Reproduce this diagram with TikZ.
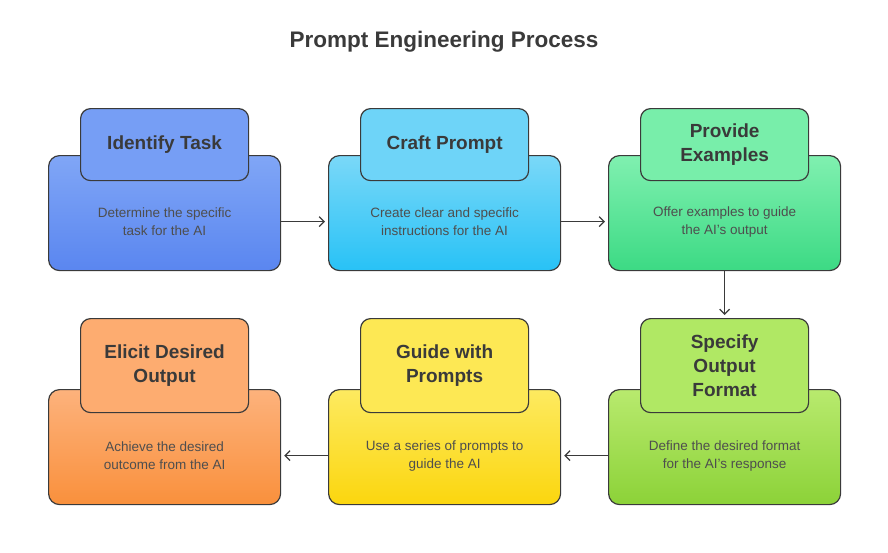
\documentclass[tikz,border=0pt]{standalone}
\usepackage{fontspec}
\setmainfont{Liberation Sans}
\usetikzlibrary{arrows.meta}
\definecolor{ink}{HTML}{3A3A3A}
\begin{document}
\begin{tikzpicture}[x=1pt,y=-1pt]

	\tikzstyle{caja}=[draw=ink, line width=1.2pt, rounded corners=11pt, minimum width=232pt, minimum height=115pt, anchor=north west]
	\tikzstyle{desc}=[align=center, font=\fontsize{13.5}{18}\selectfont, text=ink!90, yshift=-8.5pt]
	\tikzstyle{tab}=[draw=ink, line width=1.2pt, rounded corners=10pt, minimum width=168pt, minimum height=72pt, align=center, font=\fontsize{19}{24}\selectfont\bfseries, text=ink, anchor=north west]
	\tikzstyle{alta}=[minimum height=94pt]
	\tikzstyle{flecha}=[draw=ink, line width=1.2pt, shorten >=3pt, -{Straight Barb[length=5pt,width=10pt]}]

	\useasboundingbox (0,0) rectangle (888,552);
	\node[font=\fontsize{22.5}{26}\selectfont\bfseries, text=ink] (titulo) at (444,42) {Prompt Engineering Process};

	% FILA SUPERIOR
	\node[caja, bottom color={rgb,255:red,90;green,134;blue,240}, top color={rgb,255:red,128;green,166;blue,246}, label={[desc]center:Determine the specific\\task for the AI}] (b_1) at (48,155) {};
	\node[caja, top color={rgb,255:red,122;green,216;blue,248}, bottom color={rgb,255:red,40;green,194;blue,246}, label={[desc]center:Create clear and specific\\instructions for the AI}] (b_2) at (328,155) {};
	\node[caja, top color={rgb,255:red,128;green,240;blue,176}, bottom color={rgb,255:red,60;green,218;blue,132}, label={[desc]center:Offer examples to guide\\the AI's output}] (b_3) at (608,155) {};

	\node[tab, fill={rgb,255:red,118;green,158;blue,245}] (t_1) at (80,108) {Identify Task};
	\node[tab, fill={rgb,255:red,110;green,212;blue,248}] (t_2) at (360,108) {Craft Prompt};
	\node[tab, fill={rgb,255:red,120;green,238;blue,170}] (t_3) at (640,108) {Provide\\Examples};

	% FILA INFERIOR
	\node[caja, top color={rgb,255:red,184;green,234;blue,110}, bottom color={rgb,255:red,140;green,210;blue,56}, label={[desc]center:Define the desired format\\for the AI's response}] (b_4) at (608,389) {};
	\node[caja, top color={rgb,255:red,253;green,234;blue,96}, bottom color={rgb,255:red,251;green,214;blue,14}, label={[desc]center:Use a series of prompts to\\guide the AI}] (b_5) at (328,389) {};
	\node[caja, top color={rgb,255:red,253;green,178;blue,124}, bottom color={rgb,255:red,249;green,144;blue,60}, label={[desc]center:Achieve the desired\\outcome from the AI}] (b_6) at (48,389) {};

	\node[tab, alta, fill={rgb,255:red,176;green,232;blue,100}] (t_4) at (640,318) {Specify\\Output\\Format};
	\node[tab, alta, fill={rgb,255:red,253;green,232;blue,84}] (t_5) at (360,318) {Guide with\\Prompts};
	\node[tab, alta, fill={rgb,255:red,253;green,172;blue,112}] (t_6) at (80,318) {Elicit Desired\\Output};

	% FLECHAS
	\draw[flecha] ([yshift=-8.5pt]b_1.east) -- ([yshift=-8.5pt]b_2.west);
	\draw[flecha] ([yshift=-8.5pt]b_2.east) -- ([yshift=-8.5pt]b_3.west);
	\draw[flecha] (b_3.south) -- (t_4.north -| b_3.south);
	\draw[flecha] ([yshift=-8.5pt]b_4.west) -- ([yshift=-8.5pt]b_5.east);
	\draw[flecha] ([yshift=-8.5pt]b_5.west) -- ([yshift=-8.5pt]b_6.east);

\end{tikzpicture}
\end{document}
